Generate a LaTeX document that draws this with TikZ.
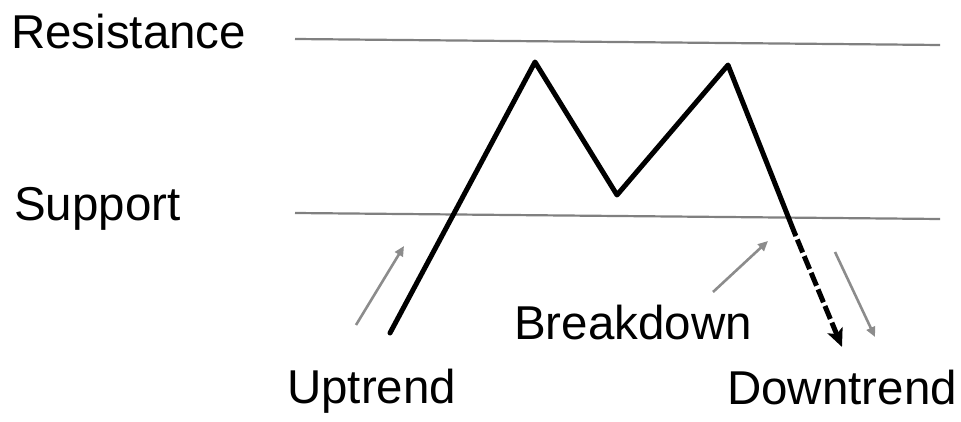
\documentclass[tikz,border=0pt]{standalone}
\usepackage{fontspec}
\setmainfont{Liberation Sans}
\usetikzlibrary{arrows.meta}
\begin{document}
\begin{tikzpicture}[x=1pt,y=-1pt,
  lbl/.style={anchor=base west,inner sep=0pt,font=\fontsize{47.5}{52}\selectfont},
  level/.style={draw=black!50,line width=2.2pt},
  price/.style={draw=black,line width=5pt,line join=round,line cap=round},
  hint/.style={draw=black!45,line width=2.6pt,-{Triangle[length=10pt,width=9pt]}}]
\useasboundingbox (0,0) rectangle (961,422);
% labels
\node[lbl] (res) at (11,49) {Resistance};
\node[lbl] (sup) at (14,221) {Support};
\node[lbl] (up) at (287,403) {Uptrend};
\node[lbl] (brk) at (514,339) {Breakdown};
\node[lbl] (down) at (727,404) {Downtrend};
% levels
\coordinate (r1) at (295,39);
\coordinate (r2) at (940,45);
\coordinate (s1) at (295,213);
\coordinate (s2) at (940,219);
\draw[level] (r1) -- (r2);
\draw[level] (s1) -- (s2);
% price path
\coordinate (p0) at (390,333);
\coordinate (p1) at (535,62);
\coordinate (p2) at (617,195);
\coordinate (p3) at (728,65);
\coordinate (p4) at (795,234);
\coordinate (p5) at (842,347);
\draw[price] (p0) -- (p1) -- (p2) -- (p3) -- (p4);
\draw[draw=black,line width=5pt,dash pattern=on 14pt off 4pt,dash phase=-6pt,
  -{Stealth[length=18pt,width=16pt,inset=4pt]}] (p4) -- (p5);
% hint arrows
\coordinate (a1) at (356,325);
\coordinate (a2) at (404,246);
\draw[hint] (a1) -- (a2);
\coordinate (b1) at (713,292);
\coordinate (b2) at (768,241);
\draw[hint] (b1) -- (b2);
\coordinate (c1) at (835,252);
\coordinate (c2) at (875,337);
\draw[hint] (c1) -- (c2);
\end{tikzpicture}
\end{document}
